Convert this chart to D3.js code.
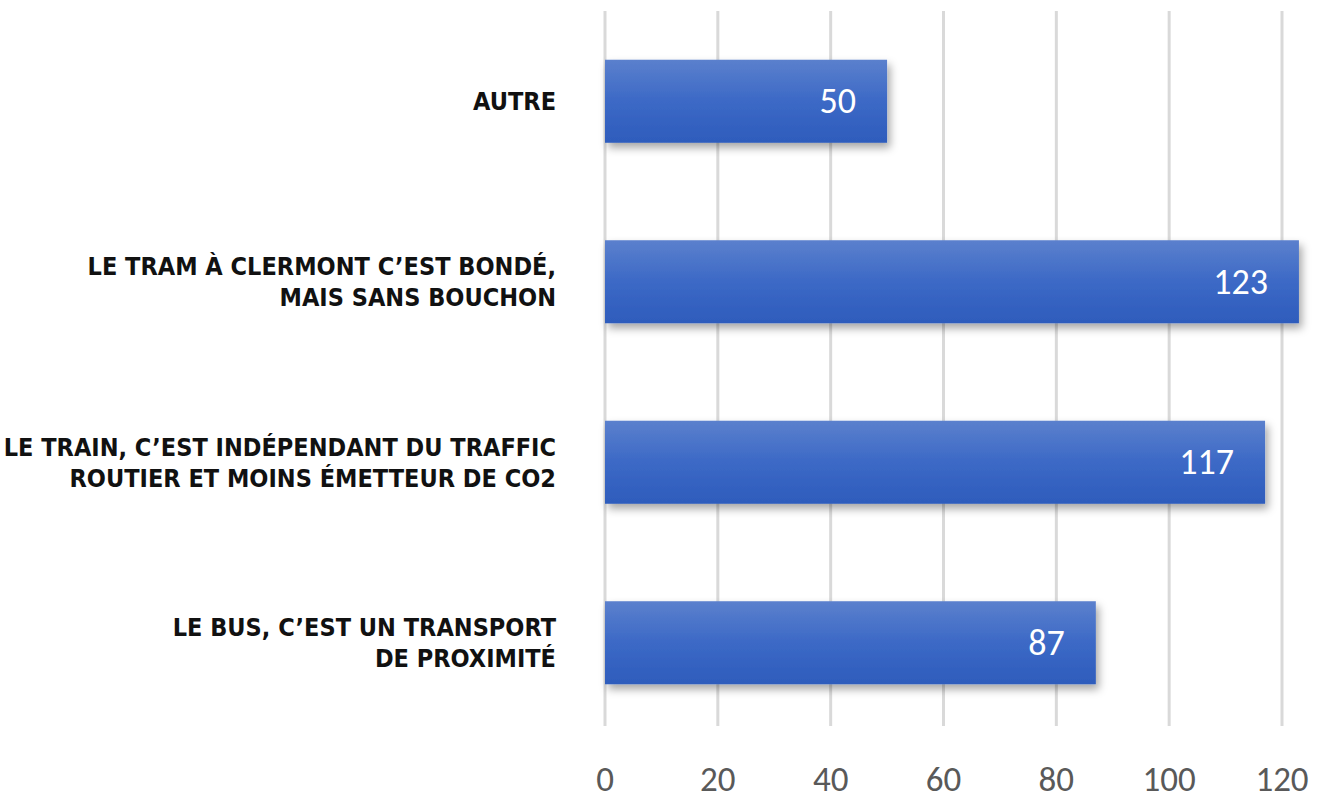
<!DOCTYPE html>
<html>
<head>
<meta charset="utf-8">
<script src="https://cdn.jsdelivr.net/npm/d3@7"></script>
<style>
  body { margin: 0; background: #fff; }
  .tick-label { font-family: Carlito, "Liberation Sans Narrow", "DejaVu Sans Condensed", sans-serif; fill: #595959; }
  .cat-label { font-family: "DejaVu Sans Condensed", "Liberation Sans Narrow", sans-serif; font-weight: bold; fill: #111; }
  .val-label { font-family: Carlito, "Liberation Sans Narrow", "DejaVu Sans Condensed", sans-serif; fill: #fff; }
</style>
</head>
<body>
<div id="chart"></div>
<script>
// categories, top to bottom, each split into lines
var categories = ['AUTRE', 'TRAM', 'TRAIN', 'BUS'];
var labelLines = [
  ['AUTRE'],
  ['LE TRAM À CLERMONT C’EST BONDÉ,', 'MAIS SANS BOUCHON'],
  ['LE TRAIN, C’EST INDÉPENDANT DU TRAFFIC', 'ROUTIER ET MOINS ÉMETTEUR DE CO2'],
  ['LE BUS, C’EST UN TRANSPORT', 'DE PROXIMITÉ']
];
var values = [50, 123, 117, 87];
var ticks = [0, 20, 40, 60, 80, 100, 120];

var size = {
  width: 1319,
  height: 803,
  margin: { top: 11, right: 37, bottom: 70, left: 605 }
};
var margin = size.margin;
var width = size.width - margin.left - margin.right;
var height = size.height - margin.top - margin.bottom;

var data = categories.map((c, i) => ({ name: c, lines: labelLines[i], value: values[i] }));

var x = d3.scaleLinear()
  .domain([0, 120])
  .range([0, width]);

var y = d3.scaleBand()
  .domain(categories)
  .range([0, height])
  .paddingInner(0.54)
  .paddingOuter(0.27);

var svg = d3.select('#chart').append('svg')
  .attr('width', size.width)
  .attr('height', size.height);

var defs = svg.append('defs');
var grad = defs.append('linearGradient')
  .attr('id', 'barGrad')
  .attr('x1', 0).attr('y1', 0).attr('x2', 0).attr('y2', 1);
grad.append('stop').attr('offset', '0%').attr('stop-color', '#5b80cd');
grad.append('stop').attr('offset', '50%').attr('stop-color', '#3c69c6');
grad.append('stop').attr('offset', '100%').attr('stop-color', '#2e5cbc');

var shadow = defs.append('filter')
  .attr('id', 'shadow')
  .attr('x', '-10%').attr('y', '-20%')
  .attr('width', '120%').attr('height', '160%');
shadow.append('feDropShadow')
  .attr('dx', 3).attr('dy', 5)
  .attr('stdDeviation', 4)
  .attr('flood-color', '#000')
  .attr('flood-opacity', 0.35);

var chart = svg.append('g')
  .attr('transform', `translate(${margin.left}, ${margin.top})`);

// vertical grid lines
chart.append('g')
  .selectAll('line')
  .data(ticks)
  .enter().append('line')
  .attr('x1', d => x(d))
  .attr('x2', d => x(d))
  .attr('y1', 0)
  .attr('y2', height - 7)
  .attr('stroke', '#d9d9d9')
  .attr('stroke-width', 3);

// tick labels
chart.append('g')
  .selectAll('text')
  .data(ticks)
  .enter().append('text')
  .attr('class', 'tick-label')
  .attr('x', d => x(d))
  .attr('y', height + 58)
  .attr('text-anchor', 'middle')
  .style('font-size', '35px')
  .text(d => d);

// bars
chart.selectAll('.bar')
  .data(data)
  .enter().append('rect')
  .attr('class', 'bar')
  .attr('x', x(0))
  .attr('y', d => y(d.name))
  .attr('width', d => x(d.value) - x(0))
  .attr('height', y.bandwidth())
  .attr('fill', 'url(#barGrad)')
  .attr('filter', 'url(#shadow)');

// value labels
chart.selectAll('.val-label')
  .data(data)
  .enter().append('text')
  .attr('class', 'val-label')
  .attr('x', d => x(d.value) - 31)
  .attr('y', d => y(d.name) + y.bandwidth() / 2 + 12)
  .attr('text-anchor', 'end')
  .style('font-size', '36px')
  .text(d => d.value);

// category labels
var lineH = 31;
var cat = chart.selectAll('.cat-label')
  .data(data)
  .enter().append('text')
  .attr('class', 'cat-label')
  .attr('text-anchor', 'end')
  .style('font-size', '25px')
  .attr('transform', d => `translate(-49, ${y(d.name) + y.bandwidth() / 2})`);

cat.selectAll('tspan')
  .data(d => d.lines.map((l, i) => ({ text: l, i: i, n: d.lines.length })))
  .enter().append('tspan')
  .attr('x', 0)
  .attr('y', d => (d.i - (d.n - 1) / 2) * lineH + 9)
  .text(d => d.text);
</script>
</body>
</html>
